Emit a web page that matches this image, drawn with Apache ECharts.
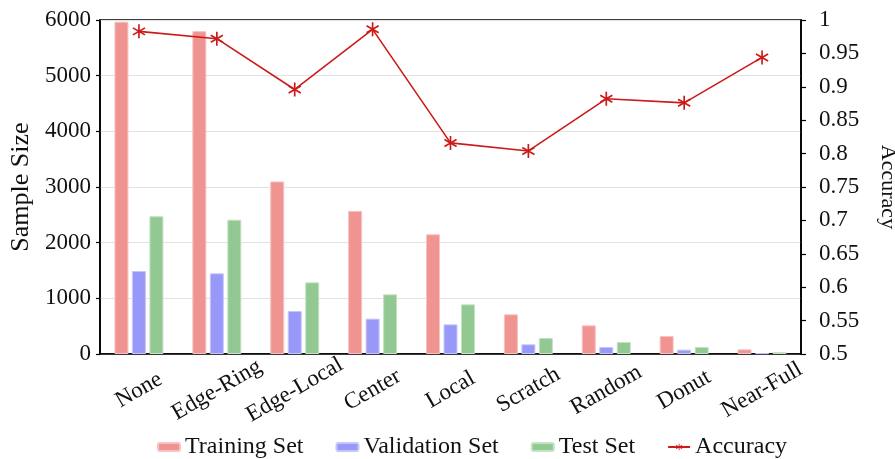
<!DOCTYPE html>
<html>
<head>
<meta charset="utf-8">
<script src="https://cdn.jsdelivr.net/npm/echarts@6/dist/echarts.min.js"></script>
<style>
  html, body { margin: 0; padding: 0; background: #fff; }
  #chart { width: 895px; height: 459px; }
</style>
</head>
<body>
<div id="chart"></div>
<script>
// Defect categories and per-split sample counts
const categories = ['None', 'Edge-Ring', 'Edge-Local', 'Center', 'Local', 'Scratch', 'Random', 'Donut', 'Near-Full'];
const trainingSet = [5970, 5800, 3100, 2570, 2150, 713, 515, 323, 84];
const validationSet = [1491, 1449, 772, 635, 533, 174, 126, 78, 16];
const testSet = [2474, 2413, 1287, 1072, 892, 287, 216, 126, 36];
// Per-class classification accuracy
const accuracy = [0.983, 0.972, 0.896, 0.986, 0.816, 0.804, 0.882, 0.876, 0.944];

const FONT = '"Liberation Serif", "DejaVu Serif", serif';
const txt = (size) => ({ fontFamily: FONT, fontSize: size, color: '#111' });

// six-armed asterisk marker built from three bars
const asterisk = 'path://' +
  'M-0.12,-1 L0.12,-1 L0.12,1 L-0.12,1 Z ' +
  'M0.806,-0.604 L0.926,-0.396 L-0.806,0.604 L-0.926,0.396 Z ' +
  'M-0.926,-0.396 L-0.806,-0.604 L0.926,0.396 L0.806,0.604 Z';

const chart = echarts.init(document.getElementById('chart'), null, { renderer: 'canvas' });

const barStyle = (fill, edge) => ({ color: fill, borderColor: edge, borderWidth: 1 });

chart.setOption({
  animation: false,
  textStyle: { fontFamily: FONT },
  grid: {
    left: 100, right: 94, top: 20, bottom: 105,
    outerBoundsMode: 'none',
    containLabel: false,
    show: true, borderColor: '#000', borderWidth: 1.6, backgroundColor: 'transparent'
  },
  legend: {
    bottom: -5,
    left: 152,
    itemWidth: 22,
    itemHeight: 8,
    itemGap: 32,
    textStyle: txt(24),
    data: ['Training Set', 'Validation Set', 'Test Set', 'Accuracy']
  },
  xAxis: {
    type: 'category',
    data: categories,
    boundaryGap: true,
    axisLine: { lineStyle: { color: '#000', width: 1.6 } },
    axisTick: { show: false },
    axisLabel: Object.assign({
      rotate: 30, margin: 36, interval: 0,
      align: 'center', verticalAlign: 'middle'
    }, txt(23)),
    splitLine: { show: false }
  },
  yAxis: [
    {
      type: 'value',
      min: 0, max: 6000, interval: 1000,
      name: 'Sample Size',
      nameLocation: 'middle',
      nameGap: 52,
      nameTextStyle: txt(26),
      axisLine: { show: true, lineStyle: { color: '#000', width: 1.6 } },
      axisTick: { show: true, length: 4, lineStyle: { color: '#000', width: 1.2 } },
      axisLabel: Object.assign({ margin: 9, formatter: (v) => String(v) }, txt(23)),
      splitLine: { show: true, lineStyle: { color: '#e2e2e2', width: 1.2 } }
    },
    {
      type: 'value',
      min: 0.5, max: 1, interval: 0.05,
      name: 'Accuracy',
      nameLocation: 'middle',
      nameRotate: -90,
      nameGap: 76,
      nameTextStyle: txt(22),
      axisLine: { show: true, lineStyle: { color: '#000', width: 1.6 } },
      axisTick: { show: true, length: 5, lineStyle: { color: '#000', width: 1.2 } },
      axisLabel: Object.assign({ margin: 18 }, txt(23)),
      splitLine: { show: false }
    }
  ],
  series: [
    {
      name: 'Training Set', type: 'bar', yAxisIndex: 0,
      data: trainingSet, barWidth: 14, barGap: '25%',
      itemStyle: barStyle('#f09492', '#f7c2c1')
    },
    {
      name: 'Validation Set', type: 'bar', yAxisIndex: 0,
      data: validationSet, barWidth: 14, barGap: '25%',
      itemStyle: barStyle('#9898f8', '#c6c6fb')
    },
    {
      name: 'Test Set', type: 'bar', yAxisIndex: 0,
      data: testSet, barWidth: 14, barGap: '25%',
      itemStyle: barStyle('#92c892', '#c4e2c4')
    },
    {
      name: 'Accuracy', type: 'line', yAxisIndex: 1,
      data: accuracy,
      z: 5,
      symbol: asterisk,
      symbolSize: 14,
      symbolKeepAspect: true,
      lineStyle: { color: '#cc1a1a', width: 1.6 },
      itemStyle: { color: '#cc1a1a' }
    }
  ]
});
</script>
</body>
</html>
